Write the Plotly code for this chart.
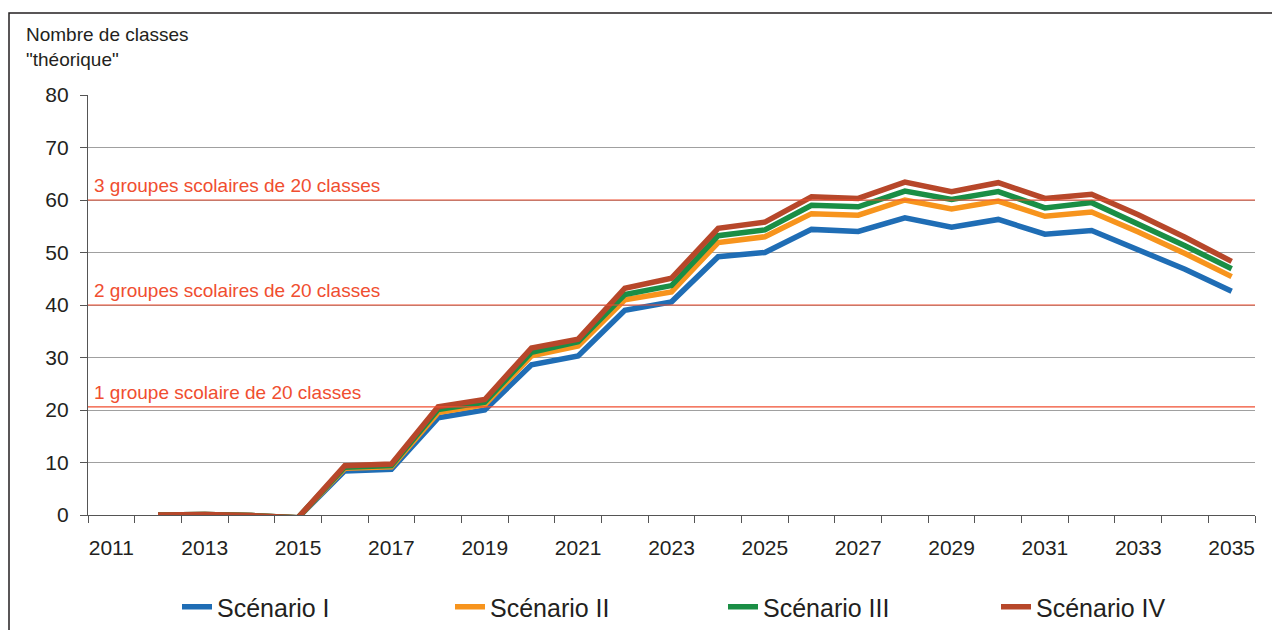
import plotly.graph_objects as go

years = list(range(2012, 2036))
scen_1 = [0, 0.1, -0.1, -0.5, 8.4, 8.7, 18.5, 20.0, 28.6, 30.3, 39.0, 40.6, 49.2, 50.0,
          54.4, 54.0, 56.6, 54.8, 56.3, 53.5, 54.2, 50.6, 46.8, 42.6]
scen_2 = [0, 0.1, -0.1, -0.5, 8.9, 9.2, 19.5, 21.0, 30.3, 32.2, 41.0, 42.5, 51.9, 53.0,
          57.4, 57.1, 60.0, 58.3, 59.8, 56.9, 57.7, 53.9, 49.8, 45.4]
scen_3 = [0, 0.1, -0.1, -0.5, 9.1, 9.4, 20.1, 21.5, 31.0, 33.0, 42.0, 43.7, 53.2, 54.3,
          59.0, 58.7, 61.7, 60.1, 61.6, 58.5, 59.5, 55.4, 51.3, 46.9]
scen_4 = [0, 0.1, -0.1, -0.5, 9.4, 9.7, 20.6, 22.0, 31.8, 33.5, 43.2, 45.1, 54.6, 55.8,
          60.6, 60.3, 63.4, 61.6, 63.3, 60.3, 61.1, 57.2, 52.9, 48.3]
series_names = ["Scénario I", "Scénario II", "Scénario III", "Scénario IV"]
series_colors = ["#1f6db5", "#f7941d", "#1a8e45", "#b7472a"]
x_tick_years = list(range(2011, 2036, 2))
ref_levels = [20.6, 40, 60]
ref_labels = ["1 groupe scolaire de 20 classes", "2 groupes scolaires de 20 classes",
              "3 groupes scolaires de 20 classes"]

FONT = "Liberation Sans, Arial, sans-serif"
RED = "#f04e30"
INK = "#231f20"

# page is offset by 8px body margin
W, H = 1272, 622
L, T = 80, 87
PW, PH = 1167, 420
R = W - L - PW
B = H - T - PH


def px(xp):  # page x -> paper x
    return (xp - 8 - L) / PW


def py(yp):  # page y -> paper y
    return (T + PH - (yp - 8)) / PH


fig = go.Figure()
for name, vals, col in zip(series_names, [scen_1, scen_2, scen_3, scen_4], series_colors):
    fig.add_trace(go.Scatter(x=years, y=vals, mode="lines", name=name,
                             line=dict(color=col, width=5.5)))

for lvl, lab in zip(ref_levels, ref_labels):
    fig.add_shape(type="line", xref="paper", yref="y", x0=0, x1=1, y0=lvl, y1=lvl,
                  line=dict(color=RED, width=1.2), layer="above")
    fig.add_annotation(xref="paper", yref="y", x=px(92), y=lvl, text=lab, showarrow=False,
                       xanchor="left", yanchor="bottom", yshift=2,
                       font=dict(family=FONT, size=19, color=RED))

# frame
fig.add_shape(type="rect", xref="paper", yref="paper", x0=px(9), x1=1.1,
              y0=-0.4, y1=py(13), line=dict(color=INK, width=1.5),
              fillcolor="rgba(0,0,0,0)", layer="below")

fig.add_annotation(xref="paper", yref="paper", x=px(24), y=py(22),
                   text="Nombre de classes<br>\"théorique\"", showarrow=False,
                   xanchor="left", yanchor="top", align="left",
                   font=dict(family=FONT, size=19, color=INK))

fig.update_layout(
    width=W, height=H,
    margin=dict(l=L, r=R, t=T, b=B, autoexpand=False),
    paper_bgcolor="white", plot_bgcolor="white",
    font=dict(family=FONT, color=INK),
    showlegend=True,
    legend=dict(orientation="h", xref="container", yref="container",
                x=(177 - 8) / W, xanchor="left",
                y=(H - (607 - 8)) / H, yanchor="middle",
                entrywidth=228, entrywidthmode="pixels",
                font=dict(family=FONT, size=25, color=INK),
                bgcolor="rgba(0,0,0,0)"),
    xaxis=dict(range=[2010.5, 2035.5], tickvals=x_tick_years,
               ticktext=[str(y) for y in x_tick_years], ticks="",
               ticklabelstandoff=14,
               showgrid=False, zeroline=False, showline=True,
               linecolor="#555555", linewidth=1.2,
               tickfont=dict(family=FONT, size=21, color=INK),
               minor=dict(tick0=2010.5, dtick=1, ticks="outside", ticklen=7,
                          tickcolor="#555555", tickwidth=1.2, showgrid=False)),
    yaxis=dict(range=[0, 80], dtick=10, tick0=0, ticks="outside", ticklen=7,
               tickcolor="#555555", tickwidth=1.2, ticklabelstandoff=7,
               showgrid=True, gridcolor="#a0a0a0", gridwidth=1,
               zeroline=False, showline=True, linecolor="#555555", linewidth=1.2,
               tickfont=dict(family=FONT, size=21, color=INK)),
)

fig.write_html("out.html")
